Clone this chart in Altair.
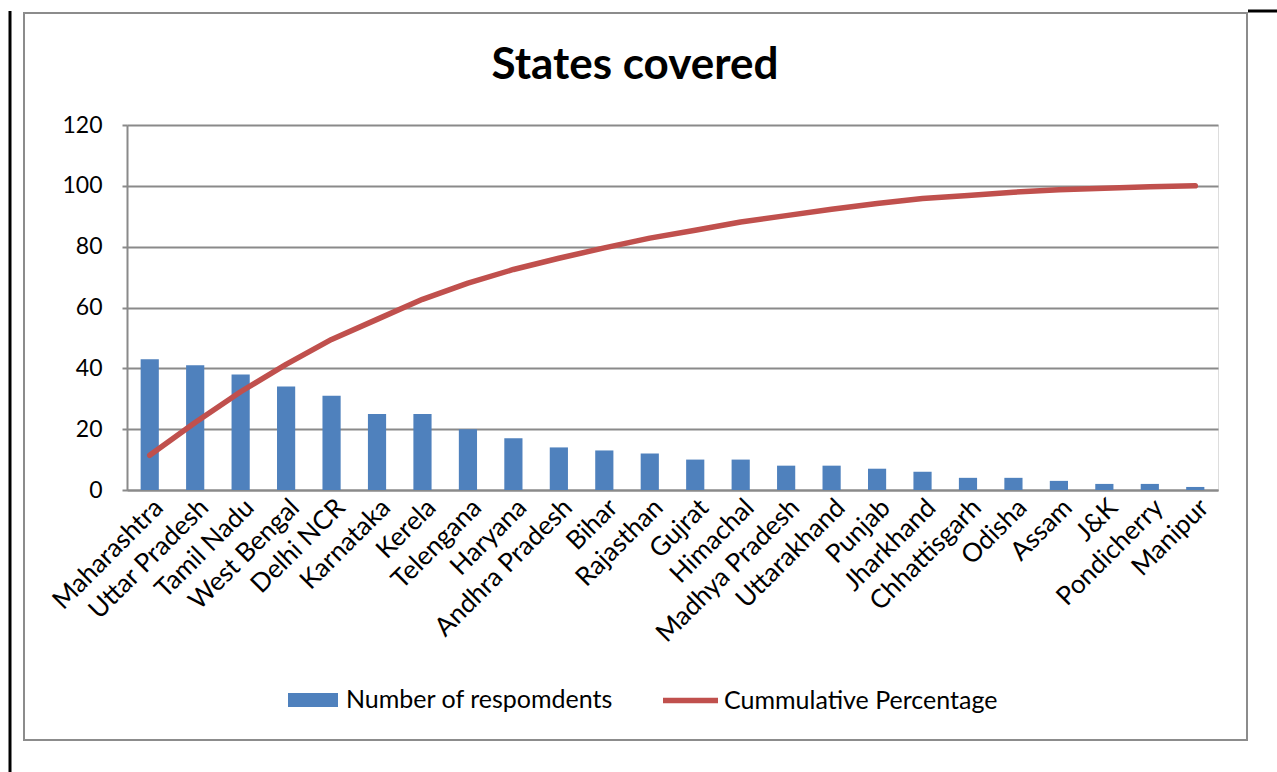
import altair as alt
import pandas as pd

# Respondents per state, sorted by count (Pareto order)
states = [
    "Maharashtra", "Uttar Pradesh", "Tamil Nadu", "West Bengal", "Delhi NCR",
    "Karnataka", "Kerela", "Telengana", "Haryana", "Andhra Pradesh", "Bihar",
    "Rajasthan", "Gujrat", "Himachal", "Madhya Pradesh", "Uttarakhand",
    "Punjab", "Jharkhand", "Chhattisgarh", "Odisha", "Assam", "J&K",
    "Pondicherry", "Manipur",
]
respondents = [43, 41, 38, 34, 31, 25, 25, 20, 17, 14, 13, 12, 10, 10, 8, 8,
               7, 6, 4, 4, 3, 2, 2, 1]
cumulative_pct = [11.4, 22.2, 32.3, 41.3, 49.5, 56.1, 62.7, 68.0, 72.5, 76.2,
                  79.6, 82.8, 85.4, 88.1, 90.2, 92.3, 94.2, 95.8, 96.8, 97.9,
                  98.7, 99.2, 99.7, 100.0]
y_ticks = [0, 20, 40, 60, 80, 100, 120]

TITLE = "States covered"
BAR_NAME = "Number of respomdents"
LINE_NAME = "Cummulative Percentage"

df = pd.DataFrame({
    "state": states,
    "count": respondents,
    "cum": cumulative_pct,
    "bar_series": BAR_NAME,
    "line_series": LINE_NAME,
})

FONT = "Lato"
GRID = "#8a8a8a"
BLUE = "#4F81BD"
RED = "#C0504D"

W, H = 1091, 365
PAD = {"left": 127, "top": 125, "right": 1277 - 127 - W, "bottom": 772 - 125 - H}

x_enc = alt.X(
    "state:N", sort=states, title=None,
    scale=alt.Scale(paddingInner=0.6, paddingOuter=0.3),
    axis=alt.Axis(labelAngle=-45, labelAlign="right", labelBaseline="top",
                  labelPadding=4, ticks=False, domainColor=GRID,
                  domainWidth=2, labelFontSize=26, labelFont=FONT,
                  labelColor="black", labelLimit=500, labelOverlap=False,
                  grid=False),
)

bars = alt.Chart(df).mark_bar().encode(
    x=x_enc,
    y=alt.Y("count:Q", title=None,
            scale=alt.Scale(domain=[0, 120], nice=False),
            axis=alt.Axis(values=y_ticks, grid=True, gridColor=GRID,
                          gridWidth=2, domainColor=GRID, domainWidth=2,
                          tickColor=GRID, tickWidth=2, tickSize=5,
                          labelFontSize=23, labelFont=FONT,
                          labelColor="black", labelPadding=20)),
    fill=alt.Fill("bar_series:N",
                  scale=alt.Scale(domain=[BAR_NAME], range=[BLUE]),
                  legend=alt.Legend(orient="none", legendX=161, legendY=550,
                                    title=None, symbolType="M-1,-0.28H1V0.28H-1Z",
                                    symbolSize=2500, symbolStrokeWidth=0,
                                    labelFontSize=25, labelFont=FONT,
                                    labelColor="black", labelOffset=8,
                                    padding=0, labelLimit=400)),
)

line = alt.Chart(df).mark_line(strokeWidth=5.5, strokeCap="round",
                               strokeJoin="round").encode(
    x=alt.X("state:N", sort=states),
    y=alt.Y("cum:Q"),
    stroke=alt.Stroke("line_series:N",
                      scale=alt.Scale(domain=[LINE_NAME], range=[RED]),
                      legend=alt.Legend(orient="none", legendX=533, legendY=545,
                                        title=None, symbolType="stroke",
                                        symbolSize=3025, symbolStrokeWidth=5.5,
                                        labelFontSize=25, labelFont=FONT,
                                        labelColor="black", labelOffset=3,
                                        padding=0, labelLimit=400)),
)

# Chart frame, page edge lines and the heading
one = alt.Data(values=[{}])
frame = alt.Chart(one).mark_rect(fill="transparent", stroke="#8c8c8c",
                                 strokeWidth=2).encode(
    x=alt.value(-103), x2=alt.value(1120), y=alt.value(-112), y2=alt.value(615))
edge_v = alt.Chart(one).mark_rule(color="black", strokeWidth=3).encode(
    x=alt.value(-117), y=alt.value(-114), y2=alt.value(647))
edge_h = alt.Chart(one).mark_rule(color="black", strokeWidth=3).encode(
    x=alt.value(1121), x2=alt.value(1150), y=alt.value(-114))
heading = alt.Chart(one).mark_text(
    fontSize=44, fontWeight="bold", font=FONT, color="black",
    align="center", baseline="alphabetic",
).encode(x=alt.value(508), y=alt.value(-46), text=alt.value(TITLE))

chart = alt.layer(frame, edge_v, edge_h, heading, bars, line).resolve_scale(
    fill="independent", stroke="independent"
).properties(
    width=W, height=H,
    padding=PAD,
    autosize=alt.AutoSizeParams(type="none"),
).configure_view(stroke=None).configure(background="white")

chart.save("out.html", embed_options={"renderer": "svg", "actions": False})
